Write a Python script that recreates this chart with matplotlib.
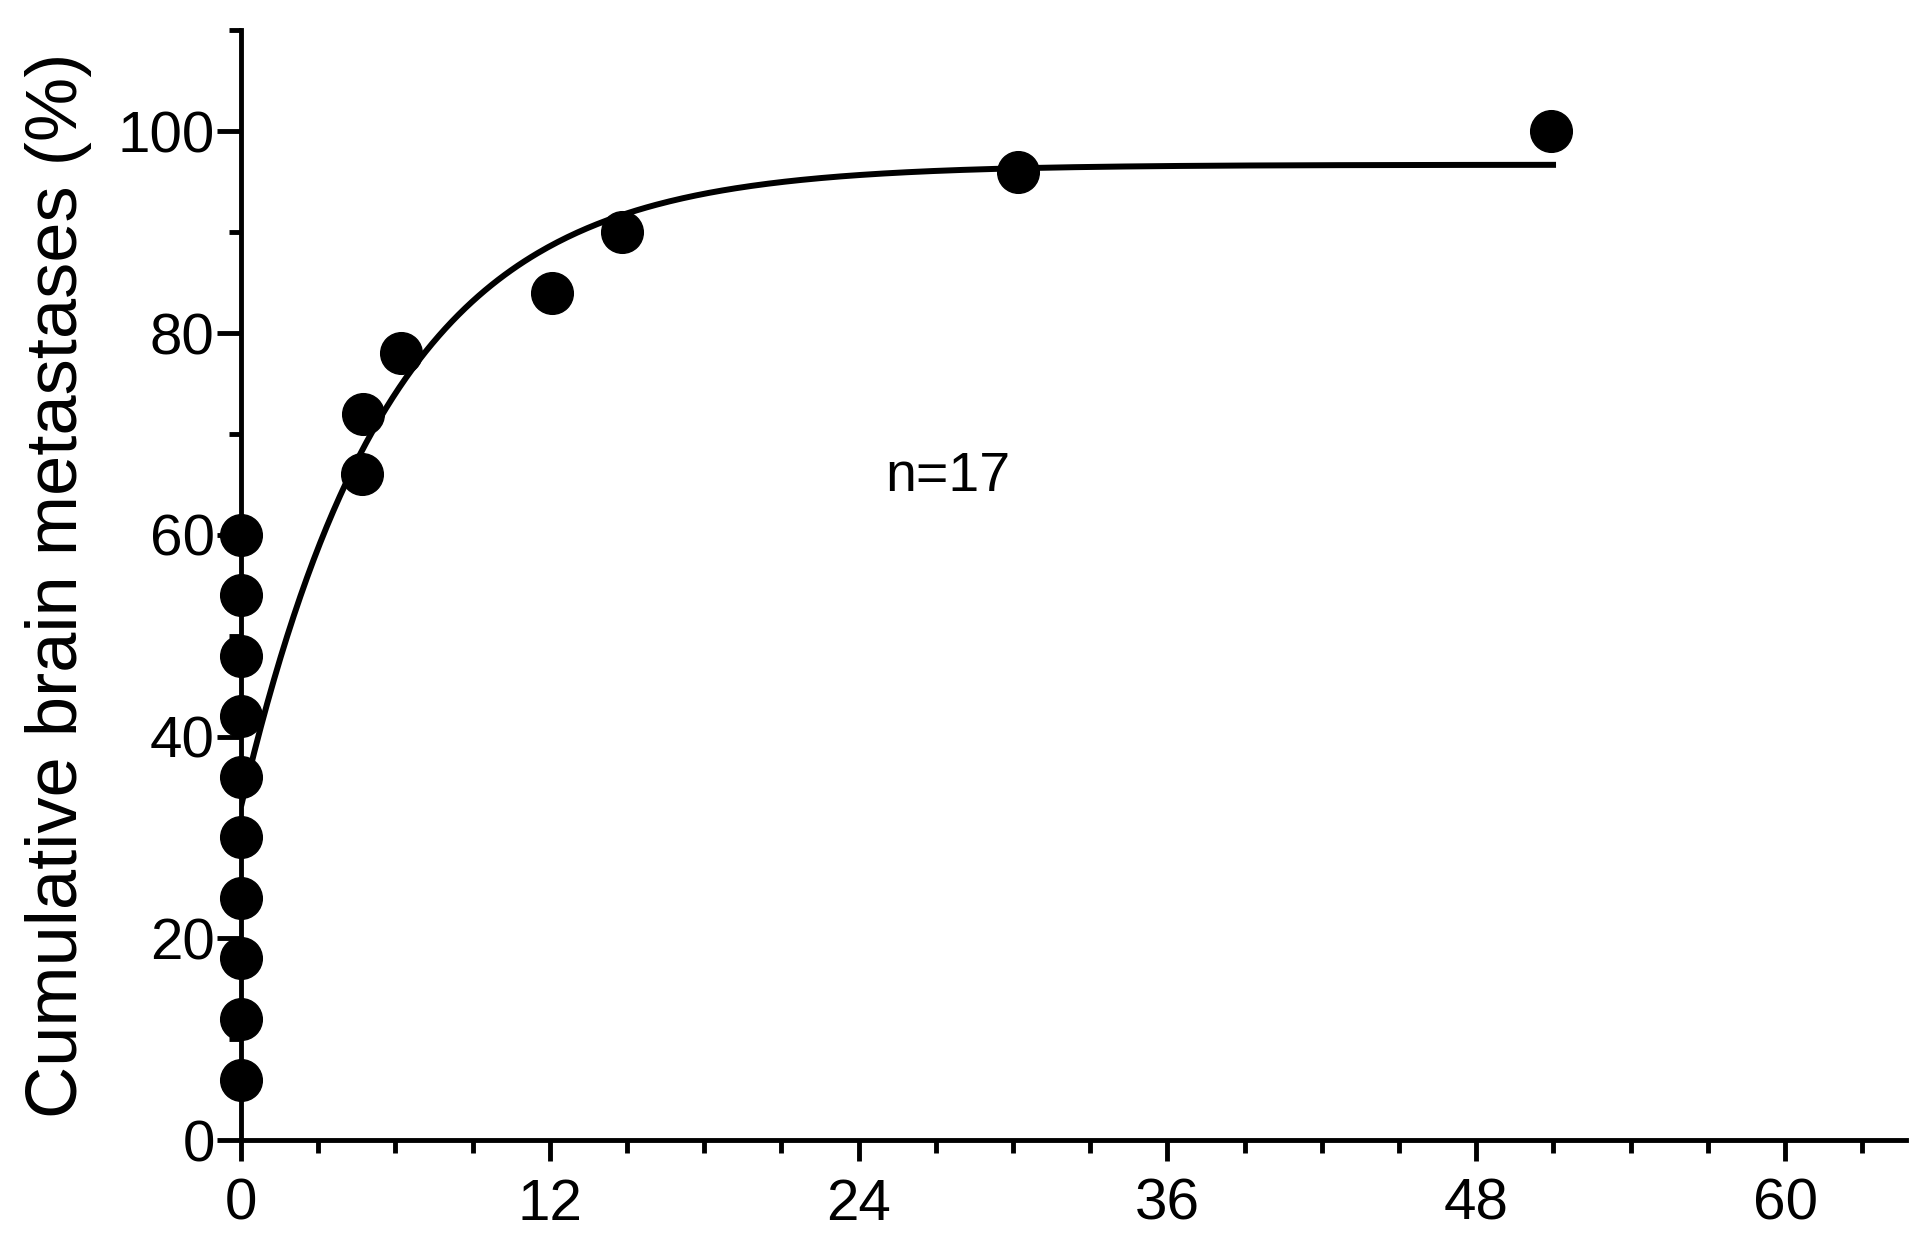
"""Cumulative brain metastases over time, one-phase exponential fit."""

import matplotlib

matplotlib.use("Agg")
import matplotlib.pyplot as plt
import numpy as np
from matplotlib.ticker import MultipleLocator

# Data (months, cumulative %).
months = [0, 0, 0, 0, 0, 0, 0, 0, 0, 0, 4.7, 4.75, 6.2, 12.1, 14.8, 30.2, 50.9]
cumulative_pct = [6, 12, 18, 24, 30, 36, 42, 48, 54, 60, 66, 72, 78, 84, 90, 96, 100]
x_ticks = [0, 12, 24, 36, 48, 60]
y_ticks = [0, 20, 40, 60, 80, 100]
n_label = "n=17"

plt.rcParams["font.family"] = ["Liberation Sans", "DejaVu Sans"]

x = np.asarray(months, dtype=float)
y = np.asarray(cumulative_pct, dtype=float)


def fit_one_phase(x, y):
  """Least-squares fit of y = a + b * exp(-k x), grid over k."""
  best = None
  for k in np.linspace(0.02, 1.0, 2000):
    A = np.column_stack([np.ones_like(x), np.exp(-k * x)])
    coef, *_ = np.linalg.lstsq(A, y, rcond=None)
    sse = np.sum((A @ coef - y) ** 2)
    if best is None or sse < best[0]:
      best = (sse, k, coef)
  return best[1], best[2]


k, (a, b) = fit_one_phase(x, y)
x_fit = np.linspace(0, x.max() + 0.2, 400)
y_fit = a + b * np.exp(-k * x_fit)

fig = plt.figure(figsize=(19.27, 12.51), dpi=100)
ax = fig.add_axes([0.1251, 0.0887, 0.864, 0.887])

ax.plot(x_fit, y_fit, color="black", linewidth=4.3, solid_capstyle="butt", zorder=2)
ax.plot(x, y, "o", color="black", markersize=30, clip_on=False, zorder=3)

ax.set_xlim(0, 64.7)
ax.set_ylim(0, 110)
ax.xaxis.set_major_locator(MultipleLocator(12))
ax.xaxis.set_minor_locator(MultipleLocator(3))
ax.yaxis.set_major_locator(MultipleLocator(20))
ax.yaxis.set_minor_locator(MultipleLocator(10))
ax.set_xticks(x_ticks)
ax.set_yticks(y_ticks)

for side in ("top", "right"):
  ax.spines[side].set_visible(False)
for side in ("left", "bottom"):
  ax.spines[side].set_linewidth(3.5)

ax.tick_params(which="major", direction="out", length=15, width=3.5, labelsize=42)
ax.tick_params(which="minor", direction="out", length=9, width=3.5)
ax.tick_params(axis="x", which="major", pad=12)
ax.tick_params(axis="y", which="major", length=17, pad=2)

ax.set_ylabel("Cumulative brain metastases (%)", fontsize=52, labelpad=18)
ax.text(27.46, 65.7, n_label, fontsize=40, ha="center", va="center")

fig.savefig("out.png", dpi=100)
